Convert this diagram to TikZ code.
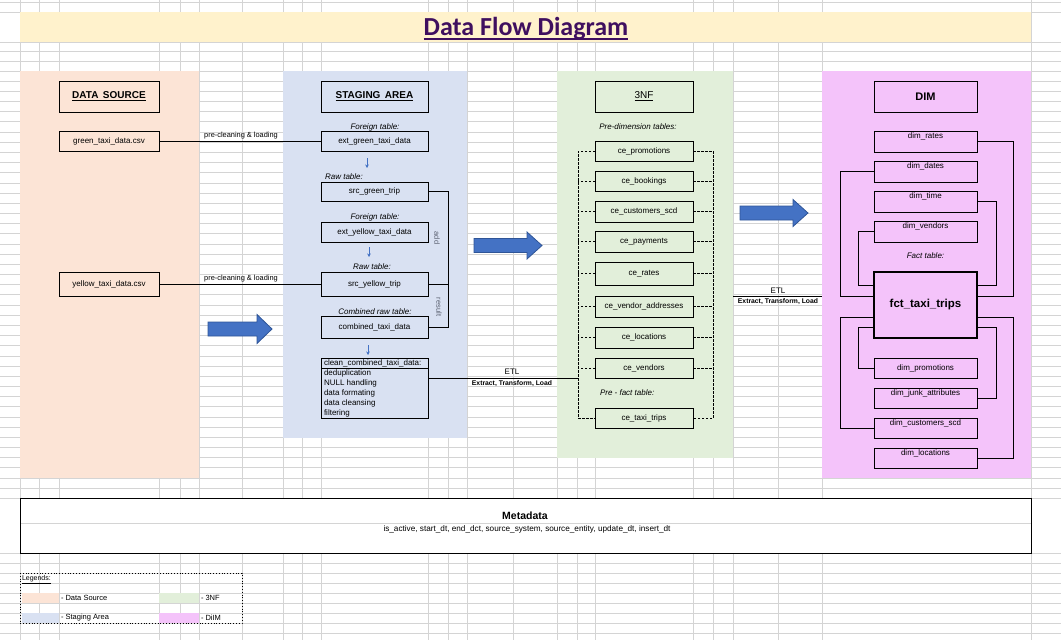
\documentclass[tikz,border=0pt]{standalone}
\usepackage{fontspec}
\setmainfont{Liberation Sans}
\newfontfamily\titlefont{Carlito}
\usetikzlibrary{arrows.meta}
\definecolor{dsfill}{HTML}{FCE4D6}
\definecolor{stfill}{HTML}{D9E1F2}
\definecolor{nffill}{HTML}{E2EFDA}
\definecolor{dmfill}{HTML}{F4C3FA}
\definecolor{titlefill}{HTML}{FFF2CC}
\definecolor{titlecol}{HTML}{3F0F5F}
\definecolor{gridcol}{HTML}{D4D4D4}
\definecolor{arrowfill}{HTML}{4472C4}
\definecolor{arrowline}{HTML}{2F5597}
\definecolor{rotcol}{HTML}{5A6070}
\newcommand\myfs[1]{\fontsize{#1}{#1}\selectfont}
\begin{document}
\begin{tikzpicture}[x=1pt,y=-1pt,
  every node/.style={inner sep=0pt, outer sep=0pt},
  panel/.style={anchor=north west, inner sep=0pt, outer sep=0pt},
  tbl/.style={draw=black, line width=0.8pt, font=\myfs{8}},
  hdr/.style={draw=black, line width=0.8pt, minimum height=31},
  lbl/.style={font=\myfs{8}\itshape},
  small/.style={font=\myfs{7.4}},
  etl/.style={font=\myfs{6.8}\bfseries},
  conn/.style={draw=black, line width=0.8pt},
  dline/.style={draw=black, line width=0.8pt, dash pattern=on 2.5pt off 1.5pt},
  smallarr/.style={draw=arrowfill, line width=0.8pt, -{Stealth[length=3.5pt,width=3.5pt]}},
  bigarr/.style={fill=arrowfill, draw=arrowline, line width=0.8pt},
  gridl/.style={draw=gridcol, line width=0.8pt},
  dimtop/.style={label={[anchor=north, yshift=-1.5pt, font=\myfs{8}]north:#1}}
]
\useasboundingbox (0,0) rectangle (1061,640);
\fill[white] (0,0) rectangle (1061,640);
% grid
\foreach \x in {20,39,59,159,180,199,242,283,302,321,428,448,467,513,557,577,595,693,713,733,778,822,1031}
  \draw[gridl] (\x,0) -- (\x,640);
\foreach \y in {2,12,42,51,61,488,498,553,563,573,583,593,603,613,623,633}
  \draw[gridl] (0,\y) -- (1061,\y);
\foreach \k in {0,...,40}
  \draw[gridl] (0,{71+10.175*\k}) -- (1061,{71+10.175*\k});

% title
\fill[titlefill] (20,12) rectangle (1031,42);
\node[anchor=base, font=\titlefont\bfseries\myfs{26}, text=titlecol] (ttl) at (526,35) {Data Flow Diagram};
\draw[titlecol, line width=1.8pt] ([yshift=-4pt]ttl.base west) -- ([yshift=-4pt]ttl.base east);

% panels
\node[panel, fill=dsfill, minimum width=179, minimum height=407] (dsP) at (20,71) {};
\node[panel, fill=stfill, minimum width=184, minimum height=367] (stP) at (283,71) {};
\node[panel, fill=nffill, minimum width=176, minimum height=387] (nfP) at (557,71) {};
\node[panel, fill=dmfill, minimum width=209, minimum height=407] (dmP) at (822,71) {};

% metadata
\node[panel, fill=white, draw=black, line width=0.8pt, minimum width=1011, minimum height=55] (meta) at (20,498) {};
\draw[gridl] ([yshift=-25pt]meta.north west) -- ([yshift=-25pt]meta.north east);
\draw[black, line width=0.8pt] (meta.north west) rectangle (meta.south east);
\node[font=\myfs{10.5}\bfseries] (metat) at (525,516) {Metadata};
\node[font=\myfs{8.2}] (metaf) at (527,529) {is\_active, start\_dt, end\_dct, source\_system, source\_entity, update\_dt, insert\_dt};

% ---------- data source
\node[hdr, minimum width=100, font=\myfs{10}\bfseries] (dsH) at (109,96.5) {\underline{DATA\ \,SOURCE}};
\node[tbl, minimum width=100, minimum height=20] (gcsv) at (109,141.5) {green\_taxi\_data.csv};
\node[tbl, minimum width=100, minimum height=24] (ycsv) at (109,284) {yellow\_taxi\_data.csv};

% ---------- staging
\node[hdr, minimum width=107, font=\myfs{10}\bfseries] (stH) at (374.5,96.5) {\underline{STAGING\ \,AREA}};
\node[lbl] (l1) at (375,127) {Foreign table:};
\node[tbl, minimum width=107, minimum height=20] (eg) at (374.5,141.5) {ext\_green\_taxi\_data};
\node[lbl] (l2) at (344,177) {Raw table:};
\node[tbl, minimum width=107, minimum height=19] (sg) at (374.5,191.5) {src\_green\_trip};
\node[lbl] (l3) at (375,217) {Foreign table:};
\node[tbl, minimum width=107, minimum height=20] (ey) at (374.5,232) {ext\_yellow\_taxi\_data};
\node[lbl] (l4) at (372,267) {Raw table:};
\node[tbl, minimum width=107, minimum height=24] (sy) at (374.5,284) {src\_yellow\_trip};
\node[lbl] (l5) at (375,312) {Combined raw table:};
\node[tbl, minimum width=107, minimum height=22] (comb) at (374.5,327) {combined\_taxi\_data};
\node[tbl, minimum width=107, minimum height=60] (clean) at (374.5,388) {};
\node[anchor=north west, align=left, font={\fontsize{8}{10}\selectfont}] (cleantxt) at (324,359.5)
  {clean\_combined\_taxi\_data:\\deduplication\\NULL handling\\data formating\\data cleansing\\filtering};
\draw[conn] ([yshift=20pt]clean.west) -- ([yshift=20pt]clean.east);

\coordinate (a1s) at (367,158); \coordinate (a1e) at (367,168);
\coordinate (a2s) at (369,247); \coordinate (a2e) at (369,257);
\coordinate (a3s) at (368,345); \coordinate (a3e) at (368,355);
\draw[smallarr] (a1s) -- (a1e);
\draw[smallarr] (a2s) -- (a2e);
\draw[smallarr] (a3s) -- (a3e);

\coordinate (sbr) at (448,0);
\draw[conn] (sg.east) -- (sg.east -| sbr) |- (comb.east);
\draw[conn] (sy.east) -- (sy.east -| sbr);
\node[rotate=-90, font=\myfs{7.5}, text=rotcol] (addl) at (437,238) {add};
\node[rotate=-90, font=\myfs{7.5}, text=rotcol] (resl) at (439,307) {result};

% pre-cleaning connectors
\draw[conn] (gcsv.east) -- (eg.west);
\draw[conn] (ycsv.east) -- (sy.west);
\node[small] (pc1) at (241,136) {pre-cleaning \& loading};
\node[small] (pc2) at (241,279) {pre-cleaning \& loading};

% ---------- 3NF
\node[hdr, minimum width=98, font=\myfs{10}] (nfH) at (644,96.5) {\underline{3NF}};
\node[lbl] (l6) at (638,127) {Pre-dimension tables:};
\node[tbl, minimum width=98, minimum height=20] (p1) at (644,151) {ce\_promotions};
\node[tbl, minimum width=98, minimum height=20] (bk) at (644,181) {ce\_bookings};
\node[tbl, minimum width=98, minimum height=21] (cs) at (644,211.5) {ce\_customers\_scd};
\node[tbl, minimum width=98, minimum height=21] (pay) at (644,241.5) {ce\_payments};
\node[tbl, minimum width=98, minimum height=23] (rt) at (644,273.5) {ce\_rates};
\node[tbl, minimum width=98, minimum height=21] (va) at (644,306.5) {ce\_vendor\_addresses};
\node[tbl, minimum width=98, minimum height=21] (loc) at (644,337.5) {ce\_locations};
\node[tbl, minimum width=98, minimum height=20] (vend) at (644,368) {ce\_vendors};
\node[lbl, anchor=west] (l7) at (600,393) {Pre - fact table:};
\node[tbl, minimum width=98, minimum height=20] (tt) at (644,418) {ce\_taxi\_trips};

\coordinate (lb) at (578,0);
\coordinate (rb) at (713,0);
\draw[dline] (p1.west) -- (p1.west -| lb) -- (tt.west -| lb) -- (tt.west);
\draw[dline] (p1.east) -- (p1.east -| rb) -- (tt.east -| rb) -- (tt.east);
\foreach \n in {bk,cs,pay,rt,va,loc,vend} {
  \draw[dline] (\n.west) -- (\n.west -| lb);
  \draw[dline] (\n.east) -- (\n.east -| rb);
}

% ETL connectors
\draw[conn] (clean.east |- vend.south) -- (vend.south -| lb);
\node[font=\myfs{8}] (etl1) at (512,372) {ETL};
\node[etl] (etl1b) at (512,384) {Extract, Transform, Load};
\draw[conn] (nfP.east |- va.north) -- (dmP.west |- va.north);
\node[font=\myfs{8}] (etl2) at (778,291) {ETL};
\node[etl] (etl2b) at (778,302) {Extract, Transform, Load};

% big arrows
\filldraw[bigarr] (208,322) -- (257,322) -- (257,314.5) -- (272,329) -- (257,343.5) -- (257,336) -- (208,336) -- cycle;
\filldraw[bigarr] (474,238.5) -- (527,238.5) -- (527,232) -- (542,245.5) -- (527,259) -- (527,252.5) -- (474,252.5) -- cycle;
\filldraw[bigarr] (740,206) -- (793,206) -- (793,199.5) -- (808,213) -- (793,226.5) -- (793,220) -- (740,220) -- cycle;

% ---------- DIM
\node[hdr, minimum width=103, font=\myfs{11}\bfseries] (dmH) at (925.5,96.5) {DIM};
\node[tbl, minimum width=103, minimum height=21, dimtop={dim\_rates}] (drt) at (925.5,141.5) {};
\node[tbl, minimum width=103, minimum height=21, dimtop={dim\_dates}] (ddt) at (925.5,171.5) {};
\node[tbl, minimum width=103, minimum height=21, dimtop={dim\_time}] (dtm) at (925.5,201.5) {};
\node[tbl, minimum width=103, minimum height=21, dimtop={dim\_vendors}] (dvd) at (925.5,231.5) {};
\node[lbl] (l8) at (925.5,256) {Fact table:};
\node[draw=black, line width=2pt, minimum width=103, minimum height=66, font=\myfs{11.5}\bfseries] (fct) at (925.5,305) {fct\_taxi\_trips};
\node[tbl, minimum width=103, minimum height=20] (dpr) at (925.5,368) {dim\_promotions};
\node[tbl, minimum width=103, minimum height=20, dimtop={dim\_junk\_attributes}] (dja) at (925.5,398) {};
\node[tbl, minimum width=103, minimum height=20, dimtop={dim\_customers\_scd}] (dcs) at (925.5,428) {};
\node[tbl, minimum width=103, minimum height=20, dimtop={dim\_locations}] (dlc) at (925.5,458) {};

\coordinate (xr1) at (1013,0);
\coordinate (xr2) at (996,0);
\coordinate (xl1) at (840,0);
\coordinate (xl2) at (858,0);
\draw[conn] (drt.east) -- (drt.east -| xr1) |- ([yshift=9pt]fct.east);
\draw[conn] (ddt.west) -- (ddt.west -| xl1) |- ([yshift=9pt]fct.west);
\draw[conn] (dtm.east) -- (dtm.east -| xr2) |- ([yshift=20pt]fct.east);
\draw[conn] (dvd.west) -- (dvd.west -| xl2) |- ([yshift=20pt]fct.west);
\draw[conn] ([yshift=-12pt]fct.west) -| (xl1 |- dcs.west) -- (dcs.west);
\draw[conn] ([yshift=-12pt]fct.east) -| (xr1 |- dlc.east) -- (dlc.east);
\draw[conn] ([yshift=-22pt]fct.west) -| (xl2 |- dpr.west) -- (dpr.west);
\draw[conn] ([yshift=-22pt]fct.east) -| (xr2 |- dja.east) -- (dja.east);

% ---------- legend
\draw[black, line width=0.8pt, dotted] (20,573) rectangle (242,623);
\node[anchor=west, font=\myfs{7}] (lgt) at (22,580) {\underline{Legends:}};
\fill[dsfill] (22,593) rectangle (59,603);
\fill[nffill] (159,593) rectangle (199,603);
\fill[stfill] (22,613) rectangle (59,622.5);
\fill[dmfill] (159,613) rectangle (199,622.5);
\node[anchor=west, font=\myfs{7.5}] (lg1) at (61,598) {- Data Source};
\node[anchor=west, font=\myfs{7.5}] (lg2) at (201,598) {- 3NF};
\node[anchor=west, font=\myfs{7.5}] (lg3) at (61,618) {- Staging Area};
\node[anchor=west, font=\myfs{7.5}] (lg4) at (201,618) {- DiIM};
\end{tikzpicture}
\end{document}
